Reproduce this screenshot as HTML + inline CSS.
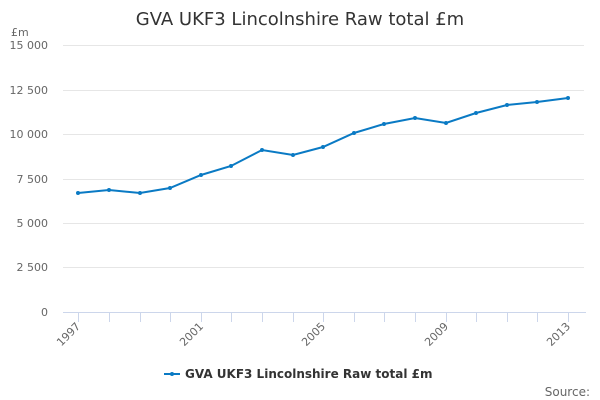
<!DOCTYPE html>
<html><head><meta charset="utf-8"><style>body{margin:0;background:#fff}svg{display:block;font-family:"DejaVu Sans","Liberation Sans",sans-serif}</style></head><body>
<svg width="600" height="400" xmlns="http://www.w3.org/2000/svg">
<text x="300" y="25" text-anchor="middle" font-size="18" fill="#333">GVA UKF3 Lincolnshire Raw total £m</text>
<text x="11" y="36" font-size="11" fill="#666">£m</text>
<g stroke="#e6e6e6" stroke-width="1">
<line x1="63" x2="584" y1="45.5" y2="45.5"/><line x1="63" x2="584" y1="90.5" y2="90.5"/><line x1="63" x2="584" y1="134.5" y2="134.5"/><line x1="63" x2="584" y1="179.5" y2="179.5"/><line x1="63" x2="584" y1="223.5" y2="223.5"/><line x1="63" x2="584" y1="267.5" y2="267.5"/>
</g>
<line x1="63" x2="586" y1="312.5" y2="312.5" stroke="#ccd6eb"/>
<g stroke="#ccd6eb">
<line x1="78.5" x2="78.5" y1="312" y2="322"/><line x1="109.5" x2="109.5" y1="312" y2="322"/><line x1="140.5" x2="140.5" y1="312" y2="322"/><line x1="170.5" x2="170.5" y1="312" y2="322"/><line x1="201.5" x2="201.5" y1="312" y2="322"/><line x1="231.5" x2="231.5" y1="312" y2="322"/><line x1="262.5" x2="262.5" y1="312" y2="322"/><line x1="293.5" x2="293.5" y1="312" y2="322"/><line x1="323.5" x2="323.5" y1="312" y2="322"/><line x1="354.5" x2="354.5" y1="312" y2="322"/><line x1="384.5" x2="384.5" y1="312" y2="322"/><line x1="415.5" x2="415.5" y1="312" y2="322"/><line x1="446.5" x2="446.5" y1="312" y2="322"/><line x1="476.5" x2="476.5" y1="312" y2="322"/><line x1="507.5" x2="507.5" y1="312" y2="322"/><line x1="537.5" x2="537.5" y1="312" y2="322"/><line x1="568.5" x2="568.5" y1="312" y2="322"/>
</g>
<g font-size="11" fill="#666" text-anchor="end">
<text x="48" y="49">15 000</text><text x="48" y="94">12 500</text><text x="48" y="138">10 000</text><text x="48" y="183">7 500</text><text x="48" y="227">5 000</text><text x="48" y="271">2 500</text><text x="48" y="316">0</text>
<text transform="translate(81,327) rotate(-45)">1997</text>
<text transform="translate(204,327) rotate(-45)">2001</text>
<text transform="translate(326,327) rotate(-45)">2005</text>
<text transform="translate(449,327) rotate(-45)">2009</text>
<text transform="translate(571,327) rotate(-45)">2013</text>
</g>
<polyline fill="none" stroke="#0a7ac4" stroke-width="2" points="78,193 109,190 140,193 170,188 201,175 231,166 262,150 293,155 323,147 354,133 384,124 415,118 446,123 476,113 507,105 537,102 568,98"/>
<g fill="#0a7ac4">
<circle cx="78" cy="193" r="2"/><circle cx="109" cy="190" r="2"/><circle cx="140" cy="193" r="2"/><circle cx="170" cy="188" r="2"/><circle cx="201" cy="175" r="2"/><circle cx="231" cy="166" r="2"/><circle cx="262" cy="150" r="2"/><circle cx="293" cy="155" r="2"/><circle cx="323" cy="147" r="2"/><circle cx="354" cy="133" r="2"/><circle cx="384" cy="124" r="2"/><circle cx="415" cy="118" r="2"/><circle cx="446" cy="123" r="2"/><circle cx="476" cy="113" r="2"/><circle cx="507" cy="105" r="2"/><circle cx="537" cy="102" r="2"/><circle cx="568" cy="98" r="2"/>
</g>
<line x1="164" x2="180" y1="374" y2="374" stroke="#0a7ac4" stroke-width="2"/><circle cx="172" cy="374" r="2" fill="#0a7ac4"/>
<text x="185" y="378" font-size="12" font-weight="bold" fill="#333">GVA UKF3 Lincolnshire Raw total £m</text>
<text x="590" y="396" font-size="12" fill="#666" text-anchor="end">Source:</text>
</svg>
</body></html>
